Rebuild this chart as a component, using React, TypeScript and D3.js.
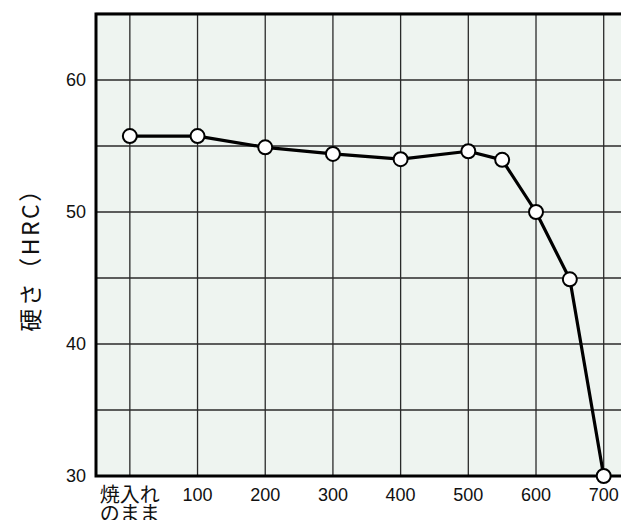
import React from 'react';
import * as d3 from 'd3';

// tempering temperature (°C, 0 = as quenched) and hardness HRC
const temps = [0, 100, 200, 300, 400, 500, 550, 600, 650, 700];
const hardness = [55.75, 55.75, 54.9, 54.4, 54.0, 54.6, 53.95, 50.0, 44.9, 30.0];
const xTicks = [100, 200, 300, 400, 500, 600, 700];
const xGrid = [0, 100, 200, 300, 400, 500, 600, 700];
const yTicks = [30, 40, 50, 60];
const yGrid = [35, 40, 45, 50, 55, 60];
const asQuenched = ['焼入れ', 'のまま'];
const yTitle = '硬さ（HRC）';

const W = 621;
const H = 520;
const left = 96;
const top = 14;
const bottom = 476;

const App: React.FC = () => {
  const x = d3.scaleLinear().domain([-50, 700]).range([left, 603.7]);
  const y = d3.scaleLinear().domain([30, 65]).range([bottom, top]);
  const line = d3.line<number>()
    .x((_, i) => x(temps[i]))
    .y(d => y(d));
  const font = 'Arial, "Liberation Sans", "Noto Sans CJK JP", sans-serif';
  const jp = '"Noto Sans CJK JP", sans-serif';

  return (
    <div style={{ position: 'fixed', left: 0, top: 0, width: W, height: H, overflow: 'hidden', background: '#fff' }}>
      <svg width={W} height={H} style={{ display: 'block' }} fontFamily={font}>
        <rect x={left} y={top} width={W - left} height={bottom - top} fill="#eef4f0" />
        {yGrid.map(v => (
          <line key={'y' + v} x1={left} x2={W} y1={y(v)} y2={y(v)} stroke="#2a2a2a" strokeWidth={1.3} />
        ))}
        {xGrid.map(v => (
          <line key={'x' + v} x1={x(v)} x2={x(v)} y1={top} y2={bottom} stroke="#2a2a2a" strokeWidth={1.3} />
        ))}
        <line x1={left} x2={W} y1={top - 1} y2={top - 1} stroke="#aaa" strokeWidth={1} />
        <path d={`M${W},${top} H${left} V${bottom} H${W}`} fill="none" stroke="#000" strokeWidth={3} />
        <path d={line(hardness) ?? ''} fill="none" stroke="#000" strokeWidth={3.2} strokeLinejoin="round" />
        {hardness.map((h, i) => (
          <circle key={i} cx={x(temps[i])} cy={y(h)} r={7} fill="#fff" stroke="#000" strokeWidth={2} />
        ))}
        {yTicks.map(v => (
          <text key={'yt' + v} x={86} y={y(v)} textAnchor="end" dominantBaseline="central" fontSize={18} fill="#111">
            {v}
          </text>
        ))}
        {xTicks.map(v => (
          <text key={'xt' + v} x={x(v)} y={495} textAnchor="middle" dominantBaseline="central" fontSize={18} fill="#111">
            {v}
          </text>
        ))}
        {asQuenched.map((s, i) => (
          <text key={s} x={x(0)} y={493 + i * 19} textAnchor="middle" dominantBaseline="central" fontSize={20} fill="#111"
            fontFamily={jp}>
            {s}
          </text>
        ))}
        <text transform={`translate(29,254) rotate(-90)`} textAnchor="middle" dominantBaseline="central"
          fontSize={23} fill="#111" fontFamily={jp} letterSpacing={2.5}>
          {yTitle}
        </text>
      </svg>
    </div>
  );
};

export default App;
